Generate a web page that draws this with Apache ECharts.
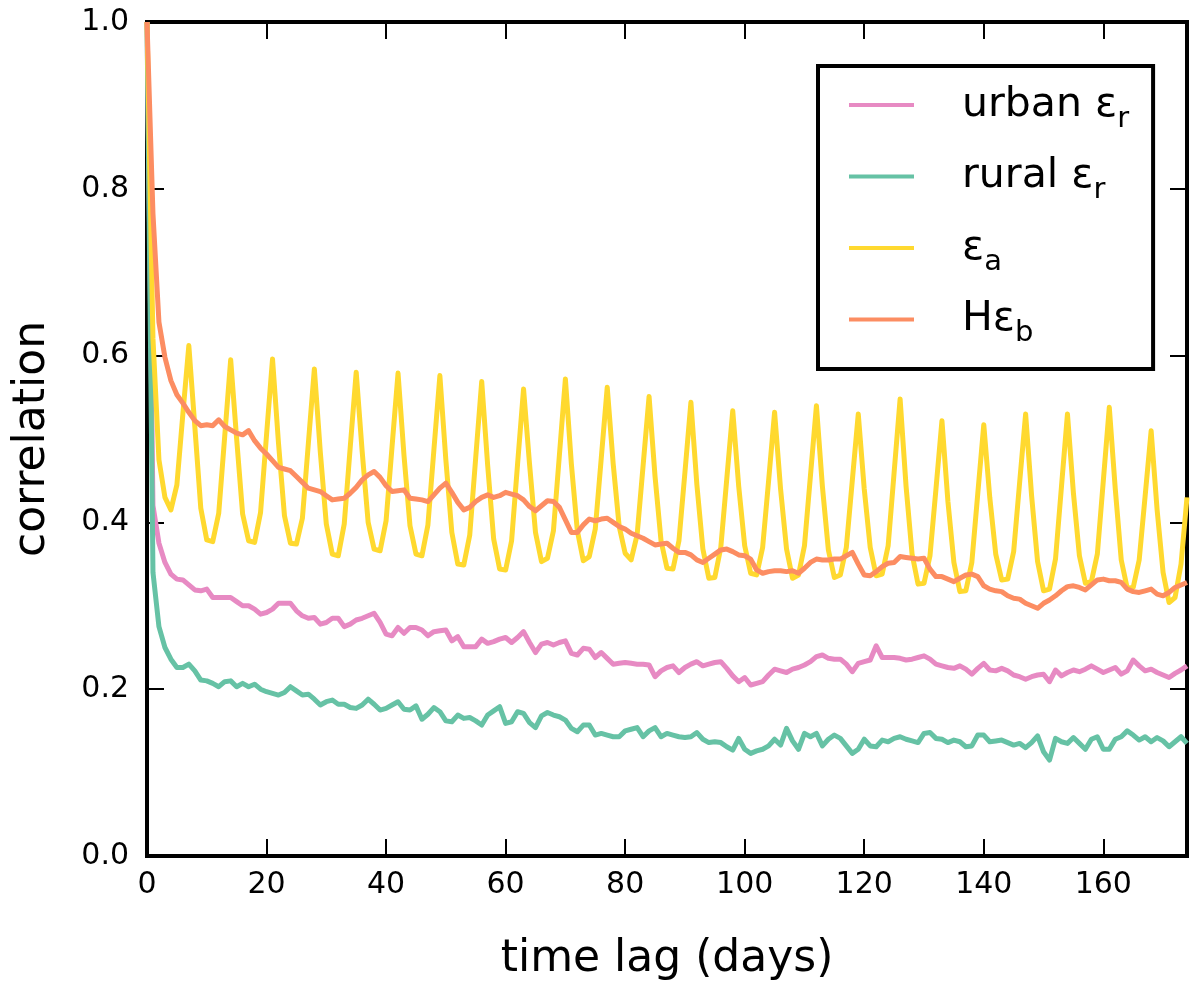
<!DOCTYPE html>
<html><head><meta charset="utf-8">
<script src="https://cdn.jsdelivr.net/npm/echarts@6/dist/echarts.min.js"></script>
<style>html,body{margin:0;padding:0;background:#fff}#c{width:1200px;height:988px}</style>
</head><body><div id="c"></div>
<script>
// time lag in days (0..174)
const lags = Array.from({length: 175}, (_, i) => i);

const urban = [
1.0,0.42,0.375,0.352,0.338,0.332,0.331,0.325,0.319,0.318,
0.320,0.310,0.310,0.310,0.310,0.305,0.300,0.300,0.296,0.290,
0.292,0.296,0.303,0.303,0.303,0.294,0.288,0.285,0.286,0.278,
0.280,0.285,0.285,0.275,0.278,0.283,0.285,0.288,0.291,0.280,
0.266,0.264,0.274,0.267,0.274,0.274,0.271,0.264,0.269,0.270,
0.271,0.258,0.263,0.251,0.251,0.251,0.260,0.255,0.257,0.260,
0.262,0.256,0.262,0.269,0.256,0.244,0.254,0.256,0.253,0.256,
0.258,0.243,0.241,0.249,0.248,0.238,0.244,0.237,0.230,0.231,
0.232,0.231,0.230,0.230,0.229,0.215,0.222,0.226,0.228,0.220,
0.226,0.230,0.233,0.228,0.230,0.232,0.233,0.225,0.216,0.209,
0.214,0.205,0.207,0.209,0.217,0.224,0.222,0.220,0.224,0.226,
0.229,0.233,0.239,0.241,0.237,0.236,0.236,0.230,0.221,0.231,
0.233,0.235,0.252,0.238,0.238,0.238,0.237,0.235,0.236,0.238,
0.240,0.236,0.230,0.228,0.226,0.225,0.228,0.224,0.218,0.225,
0.231,0.223,0.222,0.225,0.222,0.217,0.215,0.212,0.215,0.217,
0.218,0.209,0.223,0.216,0.220,0.223,0.221,0.224,0.228,0.224,
0.220,0.223,0.226,0.218,0.222,0.235,0.228,0.222,0.224,0.220,
0.217,0.214,0.219,0.223,0.228];

const rural = [
1.0,0.34,0.275,0.25,0.236,0.226,0.226,0.230,0.222,0.211,
0.210,0.207,0.203,0.209,0.210,0.203,0.207,0.203,0.206,0.200,
0.197,0.195,0.193,0.196,0.203,0.198,0.193,0.194,0.188,0.181,
0.185,0.187,0.182,0.182,0.178,0.177,0.181,0.188,0.182,0.175,
0.177,0.181,0.185,0.176,0.175,0.180,0.164,0.170,0.178,0.173,
0.162,0.161,0.169,0.165,0.166,0.162,0.157,0.169,0.174,0.179,
0.159,0.161,0.173,0.171,0.160,0.154,0.168,0.172,0.169,0.167,
0.163,0.153,0.149,0.157,0.157,0.145,0.147,0.145,0.143,0.143,
0.150,0.152,0.154,0.143,0.150,0.154,0.143,0.147,0.145,0.143,
0.142,0.143,0.148,0.140,0.136,0.137,0.136,0.131,0.127,0.141,
0.128,0.123,0.126,0.128,0.132,0.140,0.133,0.153,0.138,0.128,
0.147,0.143,0.147,0.132,0.140,0.145,0.141,0.132,0.123,0.128,
0.140,0.132,0.131,0.139,0.137,0.141,0.143,0.140,0.138,0.136,
0.147,0.148,0.141,0.140,0.136,0.139,0.137,0.131,0.132,0.145,
0.145,0.137,0.138,0.139,0.136,0.133,0.135,0.130,0.136,0.144,
0.125,0.115,0.141,0.137,0.135,0.142,0.135,0.128,0.140,0.143,
0.128,0.128,0.140,0.143,0.150,0.145,0.139,0.143,0.137,0.142,
0.138,0.131,0.137,0.143,0.135];

const epsA = [
1.0,0.62,0.475,0.430,0.415,0.445,0.530,0.612,0.515,0.417,
0.379,0.377,0.411,0.503,0.595,0.500,0.410,0.378,0.376,0.412,
0.505,0.596,0.495,0.408,0.375,0.374,0.405,0.495,0.584,0.484,
0.398,0.362,0.360,0.398,0.490,0.580,0.485,0.400,0.368,0.366,
0.402,0.491,0.579,0.480,0.396,0.362,0.360,0.397,0.487,0.576,
0.475,0.388,0.350,0.349,0.385,0.478,0.569,0.468,0.380,0.344,
0.343,0.378,0.470,0.560,0.470,0.388,0.353,0.357,0.390,0.481,
0.572,0.470,0.390,0.354,0.359,0.392,0.477,0.562,0.470,0.395,
0.363,0.355,0.385,0.468,0.551,0.455,0.378,0.345,0.344,0.378,
0.460,0.544,0.445,0.368,0.333,0.334,0.370,0.452,0.534,0.443,
0.372,0.339,0.337,0.370,0.450,0.532,0.440,0.368,0.333,0.337,
0.372,0.456,0.540,0.443,0.367,0.334,0.337,0.370,0.450,0.530,
0.440,0.370,0.336,0.338,0.372,0.460,0.548,0.443,0.362,0.326,
0.327,0.360,0.440,0.522,0.425,0.352,0.317,0.318,0.352,0.435,
0.517,0.430,0.362,0.331,0.332,0.365,0.448,0.530,0.432,0.353,
0.318,0.320,0.356,0.443,0.530,0.435,0.360,0.327,0.329,0.362,
0.450,0.538,0.440,0.355,0.321,0.322,0.355,0.432,0.510,0.415,
0.340,0.304,0.310,0.350,0.430];

const hEpsB = [
1.0,0.77,0.64,0.598,0.570,0.553,0.543,0.532,0.522,0.516,
0.517,0.516,0.523,0.515,0.511,0.507,0.505,0.510,0.498,0.489,
0.482,0.474,0.466,0.464,0.462,0.455,0.448,0.441,0.439,0.437,
0.432,0.427,0.428,0.429,0.435,0.442,0.451,0.457,0.461,0.454,
0.444,0.437,0.438,0.439,0.429,0.428,0.427,0.425,0.433,0.441,
0.447,0.436,0.424,0.415,0.418,0.425,0.430,0.433,0.430,0.432,
0.436,0.434,0.432,0.427,0.419,0.414,0.420,0.426,0.425,0.418,
0.403,0.388,0.388,0.397,0.404,0.402,0.404,0.405,0.400,0.395,
0.392,0.387,0.384,0.381,0.377,0.373,0.374,0.375,0.369,0.364,
0.364,0.361,0.355,0.352,0.357,0.362,0.367,0.368,0.365,0.361,
0.360,0.356,0.343,0.339,0.341,0.342,0.342,0.341,0.342,0.339,
0.345,0.352,0.356,0.355,0.355,0.356,0.356,0.360,0.364,0.350,
0.337,0.336,0.341,0.347,0.351,0.352,0.359,0.358,0.357,0.356,
0.357,0.344,0.335,0.335,0.332,0.329,0.333,0.337,0.338,0.335,
0.324,0.320,0.318,0.317,0.312,0.309,0.308,0.303,0.300,0.297,
0.303,0.307,0.312,0.318,0.323,0.324,0.322,0.319,0.325,0.331,
0.332,0.330,0.330,0.328,0.320,0.317,0.316,0.318,0.320,0.314,
0.312,0.316,0.322,0.325,0.328];

const seriesNames = ['urban εr', 'rural εr', 'εa', 'Hεb'];
const legendLabels = ['{t|urban ε}{s|r}', '{t|rural ε}{s|r}', '{t|ε}{s|a}', '{t|Hε}{s|b}'];
const seriesColors = ['#e78ac3', '#66c2a5', '#ffd92f', '#fc8d62'];
const seriesValues = [urban, rural, epsA, hEpsB];
const yTicks = [0, 0.2, 0.4, 0.6, 0.8, 1.0];

const FONT = 'DejaVu Sans';
const chart = echarts.init(document.getElementById('c'), null, {renderer: 'canvas'});

const frameLine = {show: true, onZero: false, lineStyle: {color: '#000', width: 4, cap: 'square'}};
const innerTick = {show: true, inside: true, length: 17, lineStyle: {color: '#000', width: 2}};

chart.setOption({
  animation: false,
  backgroundColor: '#fff',
  grid: {left: 147, right: 13, top: 22, bottom: 132, containLabel: false},
  xAxis: [
    {type: 'value', position: 'bottom', min: 0, max: 174, interval: 20,
     axisLine: frameLine, axisTick: innerTick, splitLine: {show: false},
     axisLabel: {fontFamily: FONT, fontSize: 30, color: '#000', margin: 14, showMaxLabel: false},
     name: 'time lag (days)', nameLocation: 'middle', nameGap: 82,
     nameTextStyle: {fontFamily: FONT, fontSize: 44, color: '#000'}},
    {type: 'value', position: 'top', min: 0, max: 174, interval: 20,
     axisLine: frameLine, axisTick: innerTick, splitLine: {show: false},
     axisLabel: {show: false}}
  ],
  yAxis: [
    {type: 'value', position: 'left', min: 0, max: 1, interval: 0.2,
     axisLine: frameLine, axisTick: innerTick, splitLine: {show: false},
     axisLabel: {fontFamily: FONT, fontSize: 30, color: '#000', margin: 18,
                 formatter: v => (yTicks.includes(+v.toFixed(1)) ? v.toFixed(1) : '')},
     name: 'correlation', nameLocation: 'middle', nameGap: 92, nameRotate: 90,
     nameTextStyle: {fontFamily: FONT, fontSize: 44, color: '#000'}},
    {type: 'value', position: 'right', min: 0, max: 1, interval: 0.2,
     axisLine: frameLine, axisTick: innerTick, splitLine: {show: false},
     axisLabel: {show: false}}
  ],
  legend: {
    orient: 'vertical', left: 818, top: 66,
    padding: [17, 24, 21, 31], itemGap: 21,
    itemWidth: 65, itemHeight: 4, icon: 'rect',
    borderColor: '#000', borderWidth: 4, borderRadius: 0, backgroundColor: '#fff',
    data: seriesNames.map((n, i) => ({name: n, itemStyle: {color: seriesColors[i]}})),
    formatter: name => legendLabels[seriesNames.indexOf(name)],
    textStyle: {
      fontFamily: FONT, color: '#000', padding: [0, 0, 0, 43],
      rich: {
        t: {fontFamily: FONT, fontSize: 41, color: '#000', lineHeight: 44, height: 44, verticalAlign: 'bottom'},
        s: {fontFamily: FONT, fontSize: 29, color: '#000', lineHeight: 16, height: 16, verticalAlign: 'bottom'}
      }
    }
  },
  series: seriesNames.map((n, i) => ({
    name: n, type: 'line', xAxisIndex: 0, yAxisIndex: 0,
    data: lags.map((d, j) => [d, seriesValues[i][j]]),
    showSymbol: false, symbol: 'none', smooth: false, clip: true,
    lineStyle: {color: seriesColors[i], width: 5, join: 'round'},
    itemStyle: {color: seriesColors[i]},
    emphasis: {disabled: true}
  }))
});
</script>
</body></html>
